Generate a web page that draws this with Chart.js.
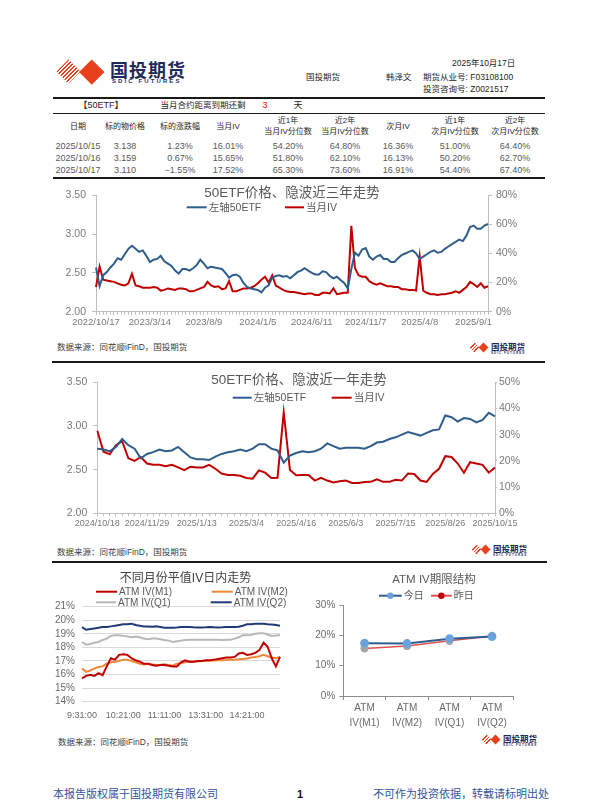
<!DOCTYPE html>
<html>
<head>
<meta charset="utf-8">
<script src="https://cdn.jsdelivr.net/npm/chart.js@4.4.0/dist/chart.umd.min.js"></script>
<style>
body { margin: 0; background: #fff; font-family: 'Liberation Sans', 'Noto Sans CJK SC', sans-serif; }
#page { position: relative; width: 600px; height: 800px; overflow: hidden; background: #fff; }
.t { position: absolute; white-space: nowrap; line-height: 1; }
.c { transform: translate(-50%, -50%); text-align: center; }
.l { transform: translateY(-50%); }
.rule { position: absolute; background: #1a1a1a; }
canvas { position: absolute; }
.dia { position: absolute; transform: rotate(45deg); }
.stripe { background: repeating-linear-gradient(90deg, #e8401c 0 1.4px, #fff 1.4px 2.8px); }
.solid { background: #e8401c; }
.navy { color: #1e2a5a; font-weight: bold; }
.src { font-size: 8.5px; color: #404040; }
.foot { font-size: 11px; color: #34559a; }
</style>
</head>
<body>
<div id="page">
  <!-- header logo -->
  <div class="dia stripe" style="left:60px;top:63px;width:17px;height:17px"></div>
  <div class="dia solid" style="left:83px;top:63px;width:17.5px;height:17.5px"></div>
  <div class="t navy" style="left:110px;top:62px;font-size:18px;letter-spacing:1px">国投期货</div>
  <div class="t navy" style="left:112px;top:78px;font-size:6px;letter-spacing:2.1px">SDIC FUTURES</div>

  <div class="t l" style="left:452px;top:63px;font-size:8.5px;color:#262626">2025年10月17日</div>
  <div class="t l" style="left:306px;top:77px;font-size:8.5px;color:#262626">国投期货</div>
  <div class="t l" style="left:386px;top:77px;font-size:8.5px;color:#262626">韩泽文</div>
  <div class="t l" style="left:423px;top:77px;font-size:8.5px;color:#262626">期货从业号: F03108100</div>
  <div class="t l" style="left:423px;top:89px;font-size:8.5px;color:#262626">投资咨询号: Z0021517</div>
  <div class="rule" style="left:53px;top:96.5px;width:492px;height:2px"></div>

  <!-- table -->
  <div class="t c" style="left:101px;top:104.5px;font-size:9px;color:#262626">【50ETF】</div>
  <div class="t c" style="left:203px;top:104.5px;font-size:8.5px;color:#262626">当月合约距离到期还剩</div>
  <div class="t c" id="daysLeft" style="left:265px;top:104.5px;font-size:9px;color:#ff0000"></div>
  <div class="t c" style="left:298px;top:104.5px;font-size:9px;color:#262626">天</div>
  <div class="rule" style="left:53px;top:112.5px;width:492px;height:1px"></div>
  <div id="tbl"></div>
  <div class="rule" style="left:53px;top:176.5px;width:492px;height:2px"></div>

  <canvas id="c1" width="493" height="152" style="left:52px;top:183px"></canvas>
  <div class="t l src" style="left:57px;top:347px">数据来源：同花顺iFinD，国投期货</div>
  <div class="rule" style="left:52px;top:361px;width:493px;height:2px"></div>

  <canvas id="c2" width="493" height="160" style="left:52px;top:370px"></canvas>
  <div class="t l src" style="left:57px;top:552px">数据来源：同花顺iFinD，国投期货</div>
  <div class="rule" style="left:52px;top:560.5px;width:495px;height:2px"></div>

  <canvas id="c3" width="260" height="158" style="left:40px;top:570px"></canvas>
  <canvas id="c4" width="245" height="160" style="left:300px;top:570px"></canvas>
  <div class="t l src" style="left:58px;top:741.5px">数据来源：同花顺iFinD，国投期货</div>

  <div id="logos"></div>

  <div class="t l foot" style="left:53px;top:794px">本报告版权属于国投期货有限公司</div>
  <div class="t c" style="left:300px;top:794px;font-size:11px;font-weight:bold;color:#111">1</div>
  <div class="t l foot" style="left:373px;top:794px">不可作为投资依据，转载请标明出处</div>
</div>

<script>
// ---- table data ----
var daysLeft = 3;
var tableHead = [['日期'], ['标的物价格'], ['标的涨跌幅'], ['当月IV'], ['近1年', '当月IV分位数'],
  ['近2年', '当月IV分位数'], ['次月IV'], ['近1年', '次月IV分位数'], ['近2年', '次月IV分位数']];
var tableRows = [
  ['2025/10/15', '3.138', '1.23%', '16.01%', '54.20%', '64.80%', '16.36%', '51.00%', '64.40%'],
  ['2025/10/16', '3.159', '0.67%', '15.65%', '51.80%', '62.10%', '16.13%', '50.20%', '62.70%'],
  ['2025/10/17', '3.110', '−1.55%', '17.52%', '65.30%', '73.60%', '16.91%', '54.40%', '67.40%']
];

// ---- 50ETF price / current-month IV, last 3 years ----
var ticks3y = ['2022/10/17', '2023/3/14', '2023/8/9', '2024/1/5', '2024/6/11', '2024/11/7', '2025/4/8', '2025/9/1'];
var etf3y = [2.57, 2.33, 2.47, 2.51, 2.57, 2.62, 2.69, 2.67, 2.74, 2.81,
  2.85, 2.81, 2.77, 2.79, 2.72, 2.64, 2.67, 2.68, 2.72, 2.65,
  2.62, 2.59, 2.53, 2.49, 2.55, 2.55, 2.53, 2.56, 2.60, 2.67,
  2.62, 2.56, 2.58, 2.57, 2.56, 2.55, 2.50, 2.44, 2.47, 2.48,
  2.45, 2.37, 2.32, 2.30, 2.29, 2.28, 2.25, 2.31, 2.34, 2.44,
  2.46, 2.47, 2.45, 2.46, 2.43, 2.47, 2.51, 2.53, 2.56, 2.53,
  2.50, 2.48, 2.48, 2.52, 2.51, 2.46, 2.43, 2.45, 2.41, 2.37,
  2.30, 2.55, 2.76, 2.72, 2.80, 2.82, 2.71, 2.67, 2.71, 2.73,
  2.68, 2.68, 2.64, 2.64, 2.69, 2.73, 2.75, 2.77, 2.79, 2.75,
  2.68, 2.71, 2.74, 2.77, 2.79, 2.76, 2.77, 2.81, 2.84, 2.87,
  2.90, 2.93, 2.91, 2.98, 3.09, 3.11, 3.07, 3.07, 3.11, 3.13];
var iv3y = [17, 31, 22, 21.5, 21, 20.5, 19.5, 18.5, 18, 19.5,
  26, 18, 17.5, 16.5, 16.5, 16.5, 17, 16.5, 14.5, 15,
  16, 15.5, 15, 16, 16, 15.5, 14, 14, 15, 16,
  17, 20.5, 18, 17, 17.5, 15.5, 16, 21, 14, 14,
  15, 16, 16, 16.5, 17.5, 19.5, 22, 24, 20, 25,
  18, 16.5, 15, 14, 13.5, 13.5, 13, 12.5, 12, 12.5,
  12.5, 11.5, 11.5, 13, 13, 12.5, 16, 12, 12.5, 13,
  13, 59, 30, 25, 24, 24, 21, 19.5, 18.5, 19.5,
  18.5, 17.5, 17.5, 17, 17, 15.5, 15.5, 15, 15, 14.5,
  38, 14.5, 13, 12, 12, 11.5, 12, 12, 12.5, 13,
  14, 13, 15, 17, 20.5, 19, 17, 19.5, 16.5, 17.5];

// ---- last 1 year ----
var ticks1y = ['2024/10/18', '2024/11/29', '2025/1/13', '2025/3/4', '2025/4/16', '2025/6/3', '2025/7/15', '2025/8/26', '2025/10/15'];
var etf1y = [2.74, 2.73, 2.71, 2.76, 2.85, 2.78, 2.74, 2.63, 2.68, 2.70,
  2.73, 2.71, 2.72, 2.76, 2.70, 2.64, 2.62, 2.62, 2.61, 2.65,
  2.68, 2.70, 2.71, 2.73, 2.71, 2.74, 2.79, 2.79, 2.74, 2.72,
  2.58, 2.66, 2.69, 2.71, 2.70, 2.71, 2.74, 2.80, 2.77, 2.74,
  2.75, 2.75, 2.75, 2.74, 2.77, 2.81, 2.82, 2.85, 2.87, 2.90,
  2.93, 2.91, 2.89, 2.92, 2.95, 2.96, 3.12, 3.10, 3.05, 3.09,
  3.08, 3.04, 3.07, 3.15, 3.11];
var iv1y = [31.5, 23.5, 22.5, 26, 27.5, 21, 20, 21.5, 19, 18.5,
  18.5, 18, 18.5, 17.5, 16.5, 17.8, 17.5, 17.5, 18.5, 17,
  15.2, 14.6, 14.6, 14.3, 13.5, 13.2, 16.4, 15.5, 13.5, 13.6,
  38.5, 16.5, 14.5, 14.6, 14.6, 12.5, 13.5, 12.5, 11.8, 12.2,
  12.5, 11.6, 11.6, 11.9, 12, 13, 12, 12, 12.8, 12.5,
  15.2, 15, 12.5, 12, 15, 17, 21.8, 21.5, 19, 15.5,
  19.5, 19, 18.5, 15.5, 17.5];

// ---- intraday ATM IV ----
var ticksDay = ['9:31:00', '10:21:00', '11:11:00', '13:31:00', '14:21:00'];
var ivM1 = [15.72, 15.9, 15.99, 15.9, 16.1, 15.95, 16.6, 17.2, 17.1, 17.45, 17.5, 17.45, 17.2, 17.05, 16.95, 16.8, 16.8,
  16.7, 16.65, 16.7, 16.7, 16.65, 16.6, 16.6, 16.9, 17.05, 16.95, 16.95, 17.0, 17.0, 17.05, 17.05, 17.1, 17.15,
  17.2, 17.25, 17.25, 17.3, 17.55, 17.6, 17.45, 17.5, 17.6, 17.8, 18.35, 18.05, 17.2, 16.6, 17.3];
var ivM2 = [16.45, 16.2, 16.3, 16.45, 16.55, 16.6, 16.8, 16.9, 16.95, 17.0, 17.1, 17.1, 17.0, 16.9, 16.8, 16.75, 16.8,
  16.75, 16.7, 16.72, 16.75, 16.7, 16.65, 16.8, 16.85, 16.9, 16.95, 16.95, 16.97, 17.0, 17.02, 17.02, 17.03, 17.05,
  17.05, 17.07, 17.1, 17.1, 17.12, 17.15, 17.18, 17.25, 17.3, 17.35, 17.45, 17.35, 17.25, 17.2, 17.3];
var ivQ1 = [18.4, 18.2, 18.25, 18.35, 18.4, 18.55, 18.65, 18.85, 18.9, 18.9, 18.85, 18.8, 18.75, 18.8, 18.75, 18.65, 18.6,
  18.65, 18.65, 18.6, 18.55, 18.5, 18.4, 18.45, 18.5, 18.55, 18.57, 18.57, 18.57, 18.57, 18.57, 18.57, 18.57, 18.57,
  18.55, 18.56, 18.57, 18.65, 18.75, 18.9, 18.9, 18.92, 19.0, 19.05, 19.05, 18.95, 18.85, 18.88, 18.9];
var ivQ2 = [19.5, 19.3, 19.35, 19.4, 19.45, 19.5, 19.5, 19.55, 19.6, 19.65, 19.7, 19.7, 19.75, 19.65, 19.6, 19.55, 19.55,
  19.53, 19.55, 19.5, 19.45, 19.45, 19.45, 19.47, 19.5, 19.5, 19.5, 19.48, 19.47, 19.47, 19.48, 19.5, 19.48, 19.47,
  19.48, 19.5, 19.5, 19.5, 19.52, 19.6, 19.7, 19.7, 19.75, 19.75, 19.75, 19.7, 19.68, 19.65, 19.6];

// ---- term structure ----
var termCats = [['ATM', 'IV(M1)'], ['ATM', 'IV(M2)'], ['ATM', 'IV(Q1)'], ['ATM', 'IV(Q2)']];
var termToday = [17.4, 17.3, 18.9, 19.6];
var termYest = [15.7, 16.5, 18.2, 19.8];

// ---------------------------------------------------------------
var FONT = "'Liberation Sans', 'Noto Sans CJK SC', sans-serif";
var BLUE = '#2f5d8c', RED = '#c00000', AXIS = '#bfbfbf', TICK = '#7a7a7a';
Chart.defaults.font.family = FONT;
Chart.defaults.color = TICK;
Chart.defaults.animation = false;

document.getElementById('daysLeft').textContent = daysLeft;

// table
var cols = [78, 125, 180, 228, 288, 345, 398, 455, 515];
var rowY = [145.7, 157.7, 170];
var html = '';
tableHead.forEach(function (h, c) {
  if (h.length === 1) {
    html += '<div class="t c" style="left:' + cols[c] + 'px;top:126.7px;font-size:8px;color:#262626">' + h[0] + '</div>';
  } else {
    html += '<div class="t c" style="left:' + cols[c] + 'px;top:121px;font-size:8px;color:#262626">' + h[0] + '</div>';
    html += '<div class="t c" style="left:' + cols[c] + 'px;top:131.7px;font-size:8px;color:#262626">' + h[1] + '</div>';
  }
});
tableRows.forEach(function (r, i) {
  r.forEach(function (v, c) {
    html += '<div class="t c" style="left:' + cols[c] + 'px;top:' + rowY[i] + 'px;font-size:9px;color:#595959">' + v + '</div>';
  });
});
document.getElementById('tbl').innerHTML = html;

// small logos
var logoPos = [[469, 341], [471, 543], [481, 733]];
var lg = '';
logoPos.forEach(function (p) {
  lg += '<div class="dia stripe" style="left:' + (p[0] + 2) + 'px;top:' + (p[1] + 3) + 'px;width:7px;height:7px"></div>';
  lg += '<div class="dia solid" style="left:' + (p[0] + 11) + 'px;top:' + (p[1] + 3) + 'px;width:7px;height:7px"></div>';
  lg += '<div class="t navy" style="left:' + (p[0] + 22) + 'px;top:' + (p[1] + 1.5) + 'px;font-size:8.5px">国投期货</div>';
  lg += '<div class="t navy" style="left:' + (p[0] + 22) + 'px;top:' + (p[1] + 10.5) + 'px;font-size:3px;letter-spacing:1px">SDIC FUTURES</div>';
});
document.getElementById('logos').innerHTML = lg;

// title + legend drawn over the canvas
function overlay(cfg) {
  return {
    id: 'overlay',
    afterDraw: function (chart) {
      var ctx = chart.ctx;
      ctx.save();
      ctx.textBaseline = 'middle';
      ctx.font = cfg.title.font + ' ' + FONT;
      ctx.fillStyle = cfg.title.color;
      ctx.textAlign = 'center';
      ctx.fillText(cfg.title.text, cfg.title.x, cfg.title.y);
      ctx.textAlign = 'left';
      ctx.font = cfg.legendFont + ' ' + FONT;
      cfg.legend.forEach(function (it) {
        var ds = chart.data.datasets[it.ds];
        ctx.strokeStyle = ds.borderColor;
        ctx.lineWidth = 2;
        ctx.beginPath();
        ctx.moveTo(it.x, it.y);
        ctx.lineTo(it.x + it.w, it.y);
        ctx.stroke();
        if (it.dot) {
          ctx.fillStyle = it.dot;
          ctx.beginPath();
          ctx.arc(it.x + it.w / 2, it.y, 3.2, 0, 2 * Math.PI);
          ctx.fill();
        }
        ctx.fillStyle = '#595959';
        ctx.fillText(ds.label, it.x + it.w + 2, it.y + 0.5);
      });
      ctx.restore();
    }
  };
}
function fixW(w) { return function (s) { s.width = w; }; }
function fixH(h) { return function (s) { s.height = h; }; }
function every(n, arr) { return function (v, i) { return i % n === 0 ? arr[i / n] : ''; }; }
var noPlug = { legend: { display: false }, tooltip: { enabled: false } };
var axisGrid = { drawOnChartArea: false, tickLength: 4, color: AXIS };

// chart 1: 3 years
new Chart(document.getElementById('c1'), {
  type: 'line',
  data: {
    labels: etf3y.map(function (_, i) { return i; }),
    datasets: [
      { label: '左轴50ETF', data: etf3y, borderColor: BLUE, borderWidth: 2, pointRadius: 0, yAxisID: 'y' },
      { label: '当月IV', data: iv3y, borderColor: RED, borderWidth: 2, pointRadius: 0, yAxisID: 'y1' }
    ]
  },
  options: {
    responsive: false,
    layout: { padding: { top: 6.3, left: 0, right: 0, bottom: 0 }, autoPadding: false },
    plugins: noPlug,
    scales: {
      x: { grid: { drawOnChartArea: false, tickLength: 3, color: AXIS }, border: { color: AXIS },
        ticks: { autoSkip: false, maxRotation: 0, padding: 2, font: { size: 9.5 }, callback: every(15, ticks3y) },
        afterFit: fixH(23.3) },
      y: { min: 2, max: 3.5, grid: axisGrid, border: { color: AXIS },
        ticks: { stepSize: 0.5, padding: 6, font: { size: 10.5 }, callback: function (v) { return v.toFixed(2); } },
        afterFit: fixW(44) },
      y1: { position: 'right', min: 0, max: 80, grid: axisGrid, border: { color: AXIS },
        ticks: { stepSize: 20, padding: 4, font: { size: 10.5 }, callback: function (v) { return v + '%'; } },
        afterFit: fixW(57) }
    }
  },
  plugins: [overlay({
    title: { text: '50ETF价格、隐波近三年走势', x: 240, y: 10.3, font: '13.5px', color: '#595959' },
    legendFont: '10.5px',
    legend: [{ ds: 0, x: 134.7, y: 24.3, w: 20 }, { ds: 1, x: 233, y: 24.3, w: 19 }]
  })]
});

// chart 2: 1 year
new Chart(document.getElementById('c2'), {
  type: 'line',
  data: {
    labels: etf1y.map(function (_, i) { return i; }),
    datasets: [
      { label: '左轴50ETF', data: etf1y, borderColor: BLUE, borderWidth: 2, pointRadius: 0, yAxisID: 'y' },
      { label: '当月IV', data: iv1y, borderColor: RED, borderWidth: 2, pointRadius: 0, yAxisID: 'y1' }
    ]
  },
  options: {
    responsive: false,
    layout: { padding: { top: 7.3, left: 0, right: 0, bottom: 0 }, autoPadding: false },
    plugins: noPlug,
    scales: {
      x: { grid: { drawOnChartArea: false, tickLength: 3, color: AXIS }, border: { color: AXIS },
        ticks: { autoSkip: false, maxRotation: 0, padding: 2, font: { size: 9 }, callback: every(8, ticks1y) },
        afterFit: fixH(16.7) },
      y: { min: 2, max: 3.5, grid: axisGrid, border: { color: AXIS },
        ticks: { stepSize: 0.5, padding: 6, font: { size: 10.5 }, callback: function (v) { return v.toFixed(2); } },
        afterFit: fixW(45.3) },
      y1: { position: 'right', min: 0, max: 50, grid: { drawOnChartArea: false, tickLength: 2, color: AXIS }, border: { color: AXIS },
        ticks: { stepSize: 10, padding: 2, font: { size: 10.5 }, callback: function (v) { return v + '%'; } },
        afterFit: fixW(50) }
    }
  },
  plugins: [overlay({
    title: { text: '50ETF价格、隐波近一年走势', x: 247, y: 10.7, font: '13.5px', color: '#595959' },
    legendFont: '10.5px',
    legend: [{ ds: 0, x: 180.7, y: 27.7, w: 19 }, { ds: 1, x: 279.7, y: 27.7, w: 20 }]
  })]
});

// chart 3: intraday
new Chart(document.getElementById('c3'), {
  type: 'line',
  data: {
    labels: ivM1.map(function (_, i) { return i; }),
    datasets: [
      { label: 'ATM IV(M1)', data: ivM1, borderColor: '#c00000', borderWidth: 2, pointRadius: 0 },
      { label: 'ATM IV(M2)', data: ivM2, borderColor: '#f0883a', borderWidth: 2, pointRadius: 0 },
      { label: 'ATM IV(Q1)', data: ivQ1, borderColor: '#b8b8b8', borderWidth: 2, pointRadius: 0 },
      { label: 'ATM IV(Q2)', data: ivQ2, borderColor: '#1f3a78', borderWidth: 2, pointRadius: 0 }
    ]
  },
  options: {
    responsive: false,
    layout: { padding: { top: 36.7, left: 0, right: 20, bottom: 0 }, autoPadding: false },
    plugins: noPlug,
    scales: {
      x: { grid: { display: false }, border: { display: false },
        ticks: { autoSkip: false, maxRotation: 0, padding: 0, font: { size: 9 }, color: '#6a6a6a', callback: every(10, ticksDay) },
        afterFit: fixH(26.3) },
      y: { min: 14, max: 21, grid: { color: '#d9d9d9', drawTicks: false }, border: { display: false },
        ticks: { stepSize: 1, autoSkip: false, padding: 7, font: { size: 10 }, color: '#6a6a6a', callback: function (v) { return v + '%'; } },
        afterFit: fixW(42) }
    }
  },
  plugins: [overlay({
    title: { text: '不同月份平值IV日内走势', x: 145.5, y: 8.3, font: '12px', color: '#404040' },
    legendFont: '10px',
    legend: [{ ds: 0, x: 56, y: 21.7, w: 21 }, { ds: 1, x: 171.7, y: 21.7, w: 21 },
      { ds: 2, x: 56, y: 32.3, w: 20 }, { ds: 3, x: 170.7, y: 32.3, w: 21 }]
  })]
});

// chart 4: term structure
new Chart(document.getElementById('c4'), {
  type: 'line',
  data: {
    labels: termCats,
    datasets: [
      { label: '今日', data: termToday, borderColor: '#2e5e8e', borderWidth: 2, pointRadius: 3.4,
        pointBackgroundColor: '#6aa3dc', pointBorderColor: '#6aa3dc' },
      { label: '昨日', data: termYest, borderColor: '#e05050', borderWidth: 1.5, pointRadius: 3.4,
        pointBackgroundColor: '#a6a6a6', pointBorderColor: '#a6a6a6' }
    ]
  },
  options: {
    responsive: false,
    layout: { padding: { top: 35, left: 0, right: 31.7, bottom: 0 }, autoPadding: false },
    plugins: noPlug,
    scales: {
      x: { offset: true, grid: { offset: true, drawOnChartArea: false, tickLength: 4, color: '#8c8c8c' }, border: { color: '#8c8c8c' },
        ticks: { padding: 1, font: { size: 10, lineHeight: 1.45 }, color: '#6a6a6a' },
        afterFit: fixH(34) },
      y: { min: 0, max: 30, grid: { drawOnChartArea: false, tickLength: 4, color: '#8c8c8c' }, border: { color: '#8c8c8c' },
        ticks: { stepSize: 10, padding: 4, font: { size: 10 }, color: '#6a6a6a', callback: function (v) { return v + '%'; } },
        afterFit: fixW(43.3) }
    }
  },
  plugins: [overlay({
    title: { text: 'ATM IV期限结构', x: 134, y: 10, font: '11.5px', color: '#595959' },
    legendFont: '10px',
    legend: [{ ds: 0, x: 79, y: 25.7, w: 22.7, dot: '#6aa3dc' }, { ds: 1, x: 131, y: 25.7, w: 20.7, dot: '#c00000' }]
  })]
});
</script>
</body>
</html>
